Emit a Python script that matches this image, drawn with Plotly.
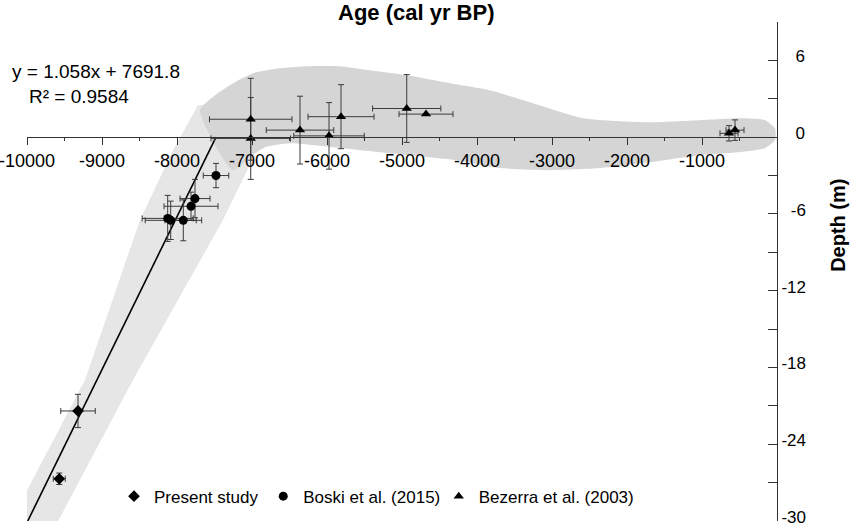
import plotly.graph_objects as go

# ---- data ----
present_age = [-9320, -9570]
present_depth = [-21.4, -26.7]
present_age_err = [230, 80]
present_depth_err = [1.3, 0.45]

boski_age = [-7480, -7760, -7813, -8124, -8084, -7916]
boski_depth = [-3.0, -4.8, -5.4, -6.35, -6.5, -6.5]
boski_age_err = [170, 200, 360, 340, 340, 245]
boski_depth_err = [0.95, 1.5, 1.1, 1.8, 1.5, 1.6]

bez_age = [-7017, -7017, -6360, -5973, -5813, -4937, -4680, -560, -640]
bez_depth = [1.4, -0.1, 0.55, 0.1, 1.6, 2.24, 1.8, 0.55, 0.3]
bez_age_err = [550, 530, 450, 470, 440, 455, 360, 120, 120]
bez_depth_err = [3.2, 3.2, 2.65, 2.6, 2.5, 2.65, 0.0, 0.8, 0.6]

trend_age = [-9990, -7480]
trend_depth = [-30, 0]

band_age = [-7720, -6960, -7000, -7387, -8587, -9573, -9627, -10200, -10067, -9227, -8493, -8053, -7720]
band_depth = [2.5, 2.89, -1.8, -6.48, -18.98, -30.0, -30.47, -30.47, -28.36, -18.98, -6.48, -1.02, 2.5]

blob_age = [-7693, -7493, -7227, -6987, -6627, -6267, -5827, -5427, -4933, -4360, -3827, -3293,
            -2587, -2093, -1693, -1027, -493, -160, -27, -27, -160, -493, -1027, -1693, -2360,
            -3027, -3693, -4267, -5160, -5920, -6493, -6827, -7027, -7253, -7693]
blob_depth = [2.11, 3.28, 4.30, 5.0, 5.39, 5.55, 5.55, 5.23, 4.84, 4.22, 3.67, 2.73,
              1.48, 1.25, 1.17, 1.33, 1.48, 1.33, 0.70, -0.23, -0.86, -1.17, -1.41, -1.95, -2.42,
              -2.58, -2.42, -1.80, -1.25, -0.78, -0.47, -0.78, -1.56, -2.58, 2.11]

x_ticks = [-10000, -9000, -8000, -7000, -6000, -5000, -4000, -3000, -2000, -1000]
x_ticktext = ["-10000", "-9000", "-8000", "-7000", "-6000", "-5000", "-4000", "-3000", "-2000", "-1000"]
y_ticks = [-30, -24, -18, -12, -6, 0, 6]
y_ticktext = ["-30", "-24", "-18", "-12", "\u2007-6", "\u2007\u20080", "\u2007\u20086"]

FONT = "Liberation Sans, Arial, sans-serif"
ERRC = "#3a3a3a"

fig = go.Figure()
fig.add_trace(go.Scatter(x=band_age, y=band_depth, mode="lines", fill="toself",
                         fillcolor="#e6e6e6", line=dict(width=0), showlegend=False,
                         hoverinfo="skip"))
fig.add_trace(go.Scatter(x=blob_age, y=blob_depth, mode="lines", fill="toself",
                         fillcolor="#d5d5d5", line=dict(width=0, shape="spline", smoothing=0.6),
                         showlegend=False, hoverinfo="skip"))
fig.add_trace(go.Scatter(x=trend_age, y=trend_depth, mode="lines",
                         line=dict(color="black", width=1.6), showlegend=False))


def eb(arr):
    return dict(type="data", array=arr, color=ERRC, thickness=1, width=3)


fig.add_trace(go.Scatter(x=present_age, y=present_depth, mode="markers", name="Present study",
                         marker=dict(symbol="diamond", size=9, color="black"), legend="legend",
                         error_x=eb(present_age_err), error_y=eb(present_depth_err)))
fig.add_trace(go.Scatter(x=boski_age, y=boski_depth, mode="markers", name="Boski et al. (2015)",
                         marker=dict(symbol="circle", size=9, color="black"), legend="legend2",
                         error_x=eb(boski_age_err), error_y=eb(boski_depth_err)))
fig.add_trace(go.Scatter(x=bez_age, y=bez_depth, mode="markers", name="Bezerra et al. (2003)",
                         marker=dict(symbol="triangle-up", size=9, color="black"), legend="legend3",
                         error_x=eb(bez_age_err), error_y=eb(bez_depth_err)))

leg_common = dict(orientation="h", y=0.085, xanchor="left", yanchor="top",
                  bgcolor="rgba(0,0,0,0)", font=dict(size=17))

fig.update_layout(
    width=850, height=527,
    margin=dict(l=27, r=73, t=22, b=6, autoexpand=False),
    paper_bgcolor="white", plot_bgcolor="white",
    font=dict(family=FONT, size=18, color="black"),
    xaxis=dict(range=[-10000, 0], tickmode="array", tickvals=x_ticks, ticktext=x_ticktext,
               showline=True, linecolor="#333", linewidth=1,
               ticks="outside", ticklen=7, tickcolor="#333",
               minor=dict(tickmode="linear", tick0=0, dtick=500, ticks="outside",
                          ticklen=3, tickcolor="#333"),
               showgrid=False, zeroline=False, anchor="free", position=30 / 39,
               tickfont=dict(size=18), ticklabeloverflow="allow", automargin=False),
    yaxis=dict(range=[-30, 9], side="right", tickmode="array", tickvals=y_ticks,
               ticktext=y_ticktext, showline=True, linecolor="#333", linewidth=1,
               ticks="inside", ticklen=9, tickcolor="#333",
               minor=dict(tickmode="linear", tick0=0, dtick=3, ticks="inside",
                          ticklen=9, tickcolor="#333"),
               showgrid=False, zeroline=False, tickfont=dict(size=17),
               ticklabelshift=-4, ticklabeloverflow="allow", automargin=False),
    legend=dict(x=0.116, **leg_common),
    legend2=dict(x=0.315, **leg_common),
    legend3=dict(x=0.549, **leg_common),
    showlegend=True,
)

fig.add_annotation(text="<b>Age (cal yr BP)</b>", x=0.519, y=1.02, xref="paper", yref="paper",
                   showarrow=False, font=dict(size=22), xanchor="center", yanchor="middle")
fig.add_annotation(text="<b>Depth (m)</b>", x=1.081, y=0.593, xref="paper", yref="paper",
                   showarrow=False, font=dict(size=20), textangle=-90,
                   xanchor="center", yanchor="middle")
fig.add_annotation(text="y = 1.058x + 7691.8", x=-0.023, y=0.90, xref="paper", yref="paper",
                   showarrow=False, font=dict(size=19), xanchor="left", yanchor="middle")
fig.add_annotation(text="R² = 0.9584", x=0.0, y=0.85, xref="paper", yref="paper",
                   showarrow=False, font=dict(size=19), xanchor="left", yanchor="middle")

# remove the default 8px page margin so the 850x527 figure fills the window exactly
fig.write_html("out.html", config={"displayModeBar": False},
               post_script="document.body.style.margin='0';")
